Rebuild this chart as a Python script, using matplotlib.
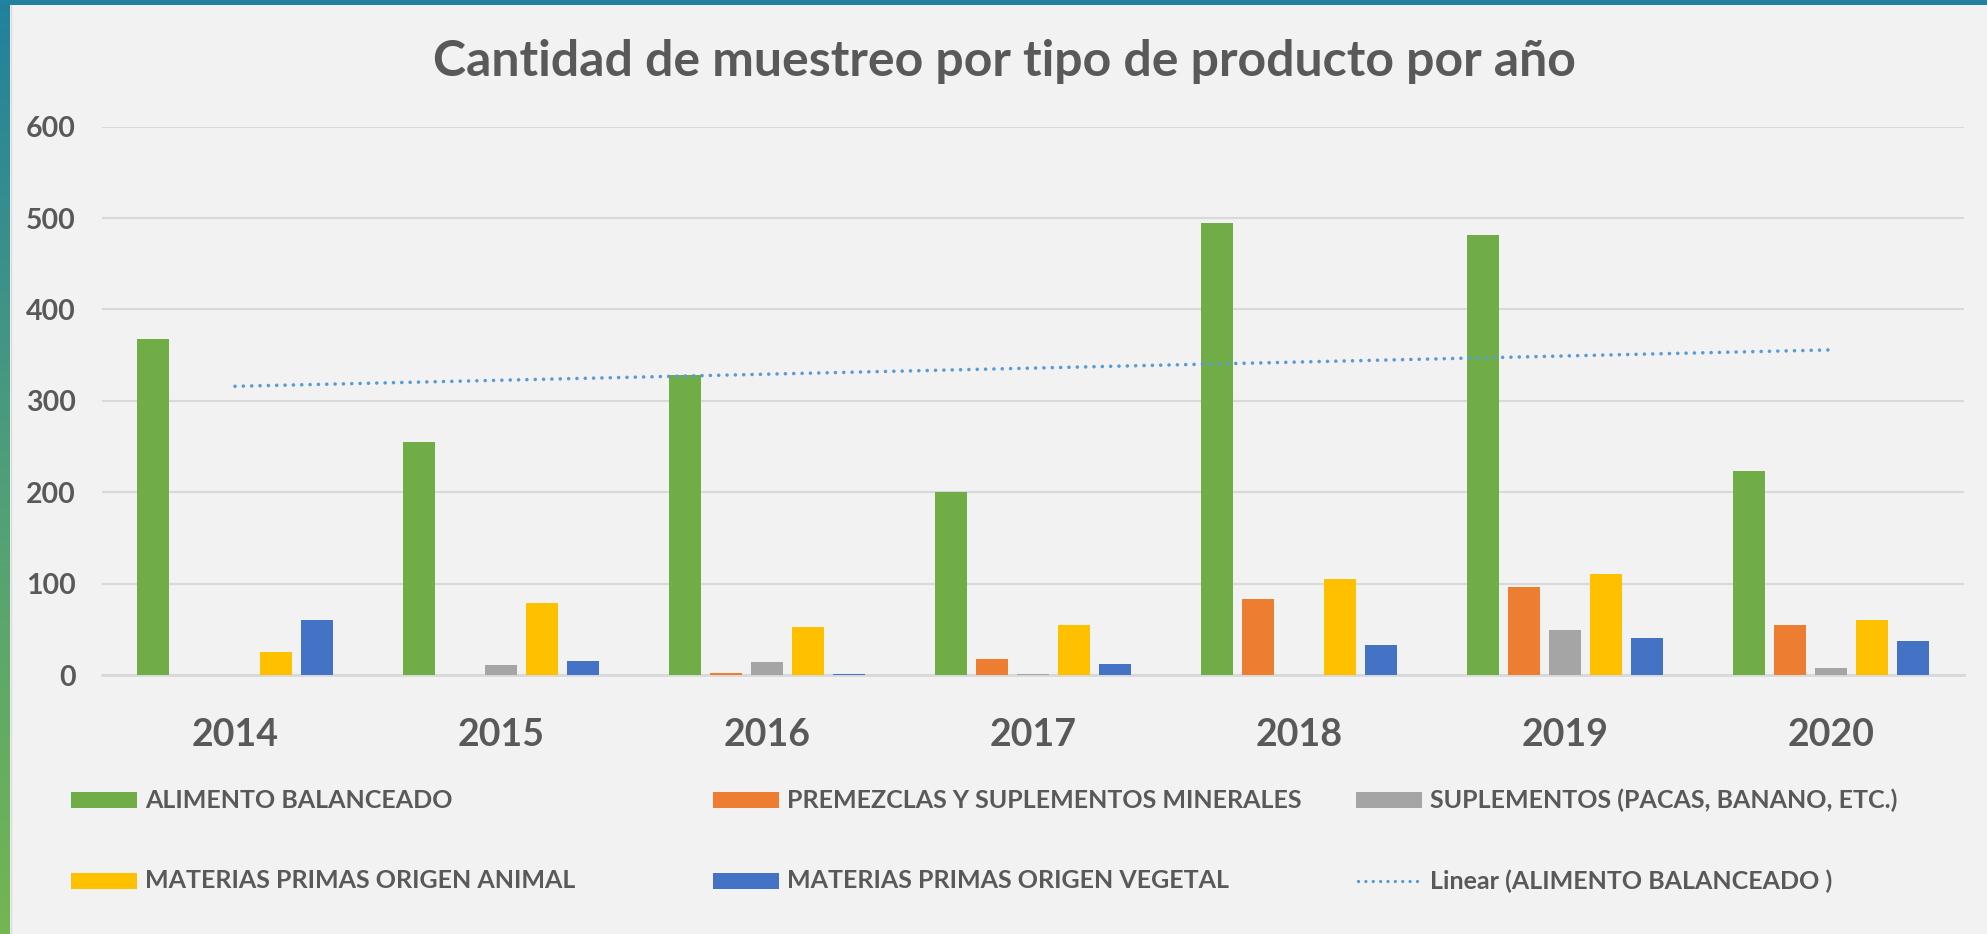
import numpy as np
import matplotlib
matplotlib.use("Agg")
import matplotlib.pyplot as plt
from matplotlib.patches import Rectangle
from matplotlib.lines import Line2D
from matplotlib.colors import LinearSegmentedColormap

# ---- data ----
years = ["2014", "2015", "2016", "2017", "2018", "2019", "2020"]
series_names = [
    "ALIMENTO BALANCEADO",
    "PREMEZCLAS Y SUPLEMENTOS MINERALES",
    "SUPLEMENTOS (PACAS, BANANO, ETC.)",
    "MATERIAS PRIMAS ORIGEN ANIMAL",
    "MATERIAS PRIMAS ORIGEN VEGETAL",
]
alimento = [368, 255, 328, 200, 495, 482, 223]
premezclas = [0, 0, 2, 17, 83, 96, 55]
suplementos = [0, 11, 14, 1, 0.5, 49, 8]
mp_animal = [25, 79, 53, 55, 105, 111, 60]
mp_vegetal = [60, 15, 1, 12, 33, 40, 37]
trend_label = "Linear (ALIMENTO BALANCEADO )"
yticks = [0, 100, 200, 300, 400, 500, 600]

colors = ["#70AD47", "#ED7D31", "#A5A5A5", "#FFC000", "#4472C4"]
trend_color = "#5B9BD5"
text_color = "#595959"
bg = "#F2F2F2"
FONT = "Lato"

W, H = 1987, 934
fig = plt.figure(figsize=(W / 100, H / 100), dpi=100, facecolor=bg)

# left gradient border and top strip
bax = fig.add_axes([0, 0, 10 / W, 1])
cmap = LinearSegmentedColormap.from_list("b", ["#74B652", "#4E9E7A", "#21819E"])
bax.imshow(np.linspace(0, 1, 256).reshape(-1, 1), aspect="auto", cmap=cmap, origin="lower",
           extent=[0, 1, 0, 1])
bax.axis("off")
fig.patches.append(Rectangle((0, 1 - 5 / H), 1, 5 / H, transform=fig.transFigure,
                             facecolor="#21819E", edgecolor="none", zorder=5))
fig.lines.append(Line2D([11 / W, 11 / W], [0, 1 - 5 / H], transform=fig.transFigure,
                        color="#D9D9D9", lw=1))

x0, x1 = 102, 1964
y_top, y_zero = 126.7, 675
ax = fig.add_axes([x0 / W, 1 - y_zero / H, (x1 - x0) / W, (y_zero - y_top) / H])
ax.set_facecolor(bg)

x = np.arange(len(years))
data = [alimento, premezclas, suplementos, mp_animal, mp_vegetal]
step, bw = 0.154, 0.12
for i, (vals, c) in enumerate(zip(data, colors)):
    ax.bar(x + (i - 2) * step, vals, width=bw, color=c, zorder=3)

coef = np.polyfit(x, alimento, 1)
xt = np.array([x[0], x[-1]])
ax.plot(xt, np.polyval(coef, xt), color=trend_color, lw=2.6,
        dashes=(0.01, 2.3), dash_capstyle="round", zorder=4)

ax.set_xlim(-0.5, len(years) - 0.5)
ax.set_ylim(0, 600)
ax.set_yticks(yticks)
ax.set_yticklabels([str(v) for v in yticks], fontsize=20.5, fontweight="bold",
                   color=text_color, family=FONT)
ax.set_xticks(x)
ax.set_xticklabels(years, fontsize=27, fontweight="bold", color=text_color, family=FONT)
ax.tick_params(axis="y", length=0, pad=19)
ax.tick_params(axis="x", length=0, pad=31)
ax.grid(axis="y", color="#D9D9D9", lw=1.5, zorder=0)
for s in ["top", "right", "left"]:
    ax.spines[s].set_visible(False)
ax.spines["bottom"].set_color("#D9D9D9")
ax.spines["bottom"].set_linewidth(2)

fig.text(1004 / W, 1 - 62 / H, "Cantidad de muestreo por tipo de producto por año",
         ha="center", va="center", fontsize=36, fontweight="bold", color=text_color,
         family=FONT)

# legend (drawn in figure coords, Excel-like equal columns)
col_x = [71, 713, 1356]
row_y = [800, 881]
entries = [(series_names[0], colors[0]), (series_names[1], colors[1]),
           (series_names[2], colors[2]), (series_names[3], colors[3]),
           (series_names[4], colors[4]), (trend_label, None)]
for k, (lab, c) in enumerate(entries):
    r, cidx = divmod(k, 3)
    px, py = col_x[cidx], row_y[r]
    if c is not None:
        fig.patches.append(Rectangle((px / W, 1 - (py + 8) / H), 66 / W, 16 / H,
                                     transform=fig.transFigure, facecolor=c,
                                     edgecolor="none"))
    else:
        fig.lines.append(Line2D([(px + 2) / W, (px + 66) / W], [1 - py / H, 1 - py / H],
                                transform=fig.transFigure, color=trend_color, lw=2.4,
                                dashes=(0.01, 2.2), dash_capstyle="round"))
    fig.text((px + 74) / W, 1 - py / H, lab, ha="left", va="center", fontsize=18,
             fontweight="bold", color=text_color, family=FONT)

fig.savefig("out.png", dpi=100, facecolor=bg)
